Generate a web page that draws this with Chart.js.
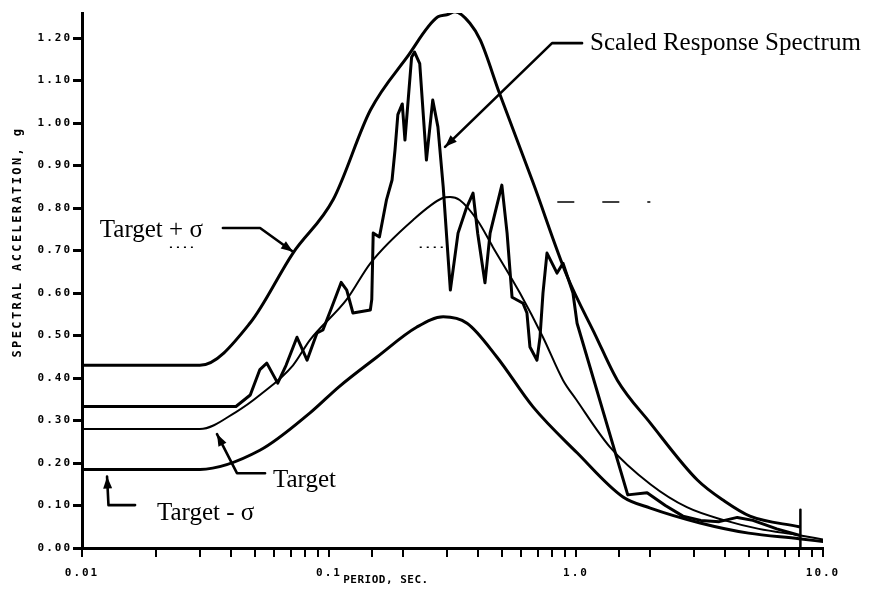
<!DOCTYPE html>
<html><head><meta charset="utf-8">
<script src="https://cdn.jsdelivr.net/npm/chart.js@4.4.1/dist/chart.umd.min.js"></script>
<style>html,body{margin:0;padding:0;background:#fff;}canvas{display:block;}</style>
</head><body>
<canvas id="c" width="872" height="592"></canvas>
<script>
// ---- Data (period in seconds, spectral acceleration in g) ----
const plusT = [0.01, 0.03, 0.048, 0.0715, 0.104, 0.147, 0.207, 0.276, 0.30, 0.324, 0.372, 0.41, 0.49, 0.67, 0.92, 1.2, 1.47, 2.0, 3.1, 4.0, 5.06, 8.0];
const plusV = [0.43, 0.43, 0.53, 0.694, 0.82, 1.03, 1.155, 1.25, 1.255, 1.262, 1.235, 1.195, 1.07, 0.86, 0.64, 0.50, 0.395, 0.294, 0.16, 0.11, 0.075, 0.05];

const targetT = [0.01, 0.03, 0.042, 0.0525, 0.0715, 0.0838, 0.118, 0.147, 0.219, 0.287, 0.309, 0.338, 0.40, 0.461, 0.593, 0.735, 0.886, 1.0, 1.37, 2.0, 2.81, 4.0, 5.5, 8.0, 10.0];
const targetV = [0.28, 0.28, 0.32, 0.36, 0.43, 0.49, 0.585, 0.67, 0.772, 0.823, 0.826, 0.819, 0.77, 0.708, 0.60, 0.496, 0.395, 0.35, 0.238, 0.15, 0.096, 0.065, 0.045, 0.03, 0.02];

const minusT = [0.01, 0.03, 0.0525, 0.0838, 0.11, 0.156, 0.227, 0.29, 0.362, 0.479, 0.67, 1.01, 1.55, 2.0, 3.18, 5.0, 8.0, 10.0];
const minusV = [0.185, 0.185, 0.23, 0.318, 0.38, 0.449, 0.52, 0.544, 0.529, 0.449, 0.332, 0.224, 0.12, 0.094, 0.059, 0.035, 0.022, 0.015];

const scaledT = [0.01, 0.042, 0.048, 0.0525, 0.056, 0.062, 0.067, 0.0742, 0.0815, 0.0894, 0.0945, 0.1027, 0.112, 0.118, 0.125, 0.147, 0.149, 0.151, 0.16, 0.171, 0.18, 0.185, 0.19, 0.198, 0.203, 0.216, 0.222, 0.233, 0.248, 0.263, 0.276, 0.29, 0.31, 0.333, 0.36, 0.383, 0.40, 0.428, 0.449, 0.501, 0.526, 0.551, 0.61, 0.633, 0.651, 0.695, 0.715, 0.735, 0.763, 0.838, 0.886, 0.972, 1.01, 1.62, 1.94, 2.3, 2.71, 3.2, 3.8, 4.5, 5.2, 6.5, 8.0];
const scaledV = [0.333, 0.333, 0.36, 0.42, 0.435, 0.388, 0.43, 0.496, 0.442, 0.506, 0.513, 0.567, 0.625, 0.607, 0.553, 0.56, 0.585, 0.741, 0.732, 0.82, 0.866, 0.936, 1.02, 1.045, 0.96, 1.155, 1.167, 1.14, 0.913, 1.054, 0.991, 0.85, 0.607, 0.741, 0.80, 0.835, 0.74, 0.624, 0.741, 0.854, 0.741, 0.59, 0.576, 0.553, 0.473, 0.442, 0.496, 0.60, 0.694, 0.647, 0.67, 0.60, 0.529, 0.125, 0.13, 0.10, 0.075, 0.065, 0.062, 0.072, 0.065, 0.045, 0.03];

const markerT = [8.1, 8.1];
const markerV = [0.0, 0.09];
const dashT = [0.84, 2.0];
const dashV = [0.814, 0.814];
const dotsAT = [0.233, 0.29];
const dotsAV = [0.708, 0.708];
const dotsBT = [0.0227, 0.0281];
const dotsBV = [0.708, 0.708];

// ---- Axis ticks and titles ----
const yTickValues = [0.0, 0.1, 0.2, 0.3, 0.4, 0.5, 0.6, 0.7, 0.8, 0.9, 1.0, 1.1, 1.2];
const xLabelValues = [0.01, 0.1, 1, 10];
const xLabelTexts = ['0.01', '0.1', '1.0', '10.0'];
const xTitle = 'PERIOD, SEC.';
const yTitle = 'SPECTRAL ACCELERATION, g';

// ---- Annotations (positions in data units) ----
const labelTexts = ['Scaled Response Spectrum', 'Target + σ', 'Target', 'Target - σ'];
const labelT = [1.14, 0.0118, 0.0593, 0.0201];
const labelV = [1.188, 0.748, 0.16, 0.082];
const arrowScaledT = [1.058, 0.8, 0.295];
const arrowScaledV = [1.188, 1.188, 0.944];
const arrowPlusT = [0.0372, 0.0526, 0.0715];
const arrowPlusV = [0.753, 0.753, 0.697];
const arrowTargetT = [0.0551, 0.0424, 0.0352];
const arrowTargetV = [0.176, 0.176, 0.268];
const arrowMinusT = [0.0164, 0.0128, 0.01263];
const arrowMinusV = [0.101, 0.101, 0.168];

const pts = (xs, ys) => xs.map((x, i) => ({x: x, y: ys[i]}));
const lineDs = (xs, ys, w, extra) => Object.assign({
  data: pts(xs, ys), showLine: true, borderColor: '#000', backgroundColor: '#000',
  borderWidth: w, pointRadius: 0, pointHoverRadius: 0, fill: false,
  borderJoinStyle: 'round', borderCapStyle: 'round'
}, extra || {});

function drawArrow(ctx, xs, ys, xScale, yScale) {
  const p = xs.map((x, i) => [xScale.getPixelForValue(x), yScale.getPixelForValue(ys[i])]);
  ctx.save();
  ctx.strokeStyle = '#000'; ctx.fillStyle = '#000'; ctx.lineWidth = 2.6;
  ctx.lineJoin = 'round'; ctx.lineCap = 'round';
  ctx.beginPath();
  ctx.moveTo(p[0][0], p[0][1]);
  for (let i = 1; i < p.length; i++) ctx.lineTo(p[i][0], p[i][1]);
  ctx.stroke();
  const [x1, y1] = p[p.length - 2], [x2, y2] = p[p.length - 1];
  const a = Math.atan2(y2 - y1, x2 - x1), L = 12, W = 4.5;
  ctx.beginPath();
  ctx.moveTo(x2, y2);
  ctx.lineTo(x2 - L * Math.cos(a) + W * Math.sin(a), y2 - L * Math.sin(a) - W * Math.cos(a));
  ctx.lineTo(x2 - L * Math.cos(a) - W * Math.sin(a), y2 - L * Math.sin(a) + W * Math.cos(a));
  ctx.closePath(); ctx.fill();
  ctx.restore();
}

const decorPlugin = {
  id: 'decor',
  beforeDraw(chart) { chart.ctx.letterSpacing = '2px'; },
  beforeDatasetsDraw(chart) { chart.ctx.letterSpacing = '0px'; },
  afterDraw(chart) {
    const ctx = chart.ctx, xs = chart.scales.x, ys = chart.scales.y;
    ctx.save();
    ctx.fillStyle = '#000';
    ctx.textAlign = 'center'; ctx.textBaseline = 'middle';
    // x axis title
    ctx.letterSpacing = '0.5px';
    ctx.font = 'bold 11px "DejaVu Sans Mono"';
    ctx.fillText(xTitle, xs.getPixelForValue(0.17), 580);
    // y axis title
    ctx.letterSpacing = '2.4px';
    ctx.font = 'bold 12px "DejaVu Sans Mono"';
    ctx.save();
    ctx.translate(18, ys.getPixelForValue(0.72));
    ctx.rotate(-Math.PI / 2);
    ctx.fillText(yTitle, 0, 0);
    ctx.restore();
    // annotation labels
    ctx.letterSpacing = '0px';
    ctx.font = '25px "Liberation Serif"';
    ctx.textAlign = 'left'; ctx.textBaseline = 'middle';
    labelTexts.forEach((t, i) => ctx.fillText(t, xs.getPixelForValue(labelT[i]), ys.getPixelForValue(labelV[i])));
    ctx.restore();
    drawArrow(ctx, arrowScaledT, arrowScaledV, xs, ys);
    drawArrow(ctx, arrowPlusT, arrowPlusV, xs, ys);
    drawArrow(ctx, arrowTargetT, arrowTargetV, xs, ys);
    drawArrow(ctx, arrowMinusT, arrowMinusV, xs, ys);
  }
};

const isLabel = v => xLabelValues.findIndex(l => Math.abs(v / l - 1) < 1e-6);

new Chart(document.getElementById('c'), {
  type: 'scatter',
  data: {
    datasets: [
      lineDs(plusT, plusV, 3, {cubicInterpolationMode: 'monotone'}),
      lineDs(targetT, targetV, 2, {cubicInterpolationMode: 'monotone'}),
      lineDs(minusT, minusV, 3, {cubicInterpolationMode: 'monotone'}),
      lineDs(scaledT, scaledV, 3, {tension: 0}),
      lineDs(markerT, markerV, 2.5),
      lineDs(dashT, dashV, 1.5, {borderDash: [17, 28], borderCapStyle: 'butt'}),
      lineDs(dotsAT, dotsAV, 1.5, {borderDash: [2, 5], borderCapStyle: 'butt'}),
      lineDs(dotsBT, dotsBV, 1.5, {borderDash: [2, 5], borderCapStyle: 'butt'})
    ]
  },
  options: {
    responsive: false,
    animation: false,
    events: [],
    layout: {padding: {left: 0, right: 49, top: 13, bottom: 0}},
    plugins: {legend: {display: false}, tooltip: {enabled: false}},
    scales: {
      x: {
        type: 'logarithmic', min: 0.01, max: 10,
        afterFit: s => { s.height = 44; },
        border: {display: true, color: '#000', width: 3},
        grid: {drawOnChartArea: false, drawTicks: true, tickLength: 9, color: '#000', lineWidth: 2},
        ticks: {
          autoSkip: false, maxRotation: 0, minRotation: 0, padding: 10, color: '#000',
          font: {family: '"DejaVu Sans Mono"', size: 11, weight: 'bold'},
          callback: v => { const i = isLabel(v); return i >= 0 ? xLabelTexts[i] : ''; }
        }
      },
      y: {
        type: 'linear', min: 0, max: 1.259,
        afterFit: s => { s.width = 82; },
        afterBuildTicks: s => { s.ticks = yTickValues.map(v => ({value: v})); },
        border: {display: true, color: '#000', width: 3},
        grid: {drawOnChartArea: false, drawTicks: true, tickLength: 9, color: '#000', lineWidth: 3},
        ticks: {
          padding: 1, color: '#000',
          font: {family: '"DejaVu Sans Mono"', size: 11, weight: 'bold'},
          callback: v => Number(v).toFixed(2)
        }
      }
    }
  },
  plugins: [decorPlugin]
});
</script>
</body></html>
